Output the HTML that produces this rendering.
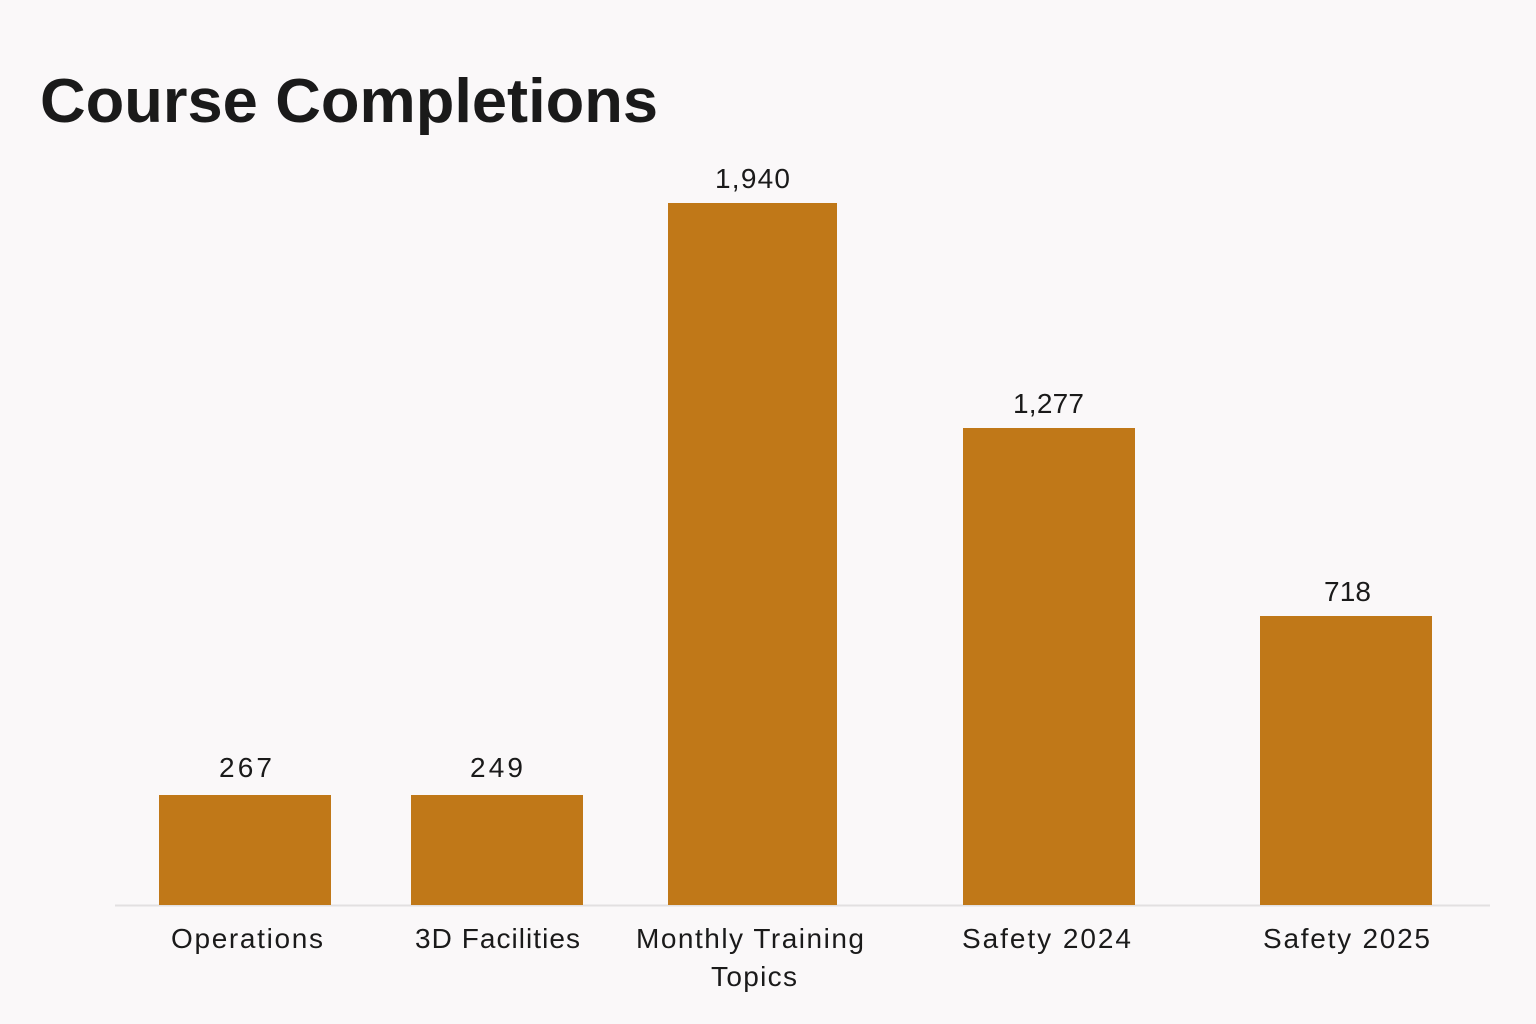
<!DOCTYPE html>
<html><head><meta charset="utf-8"><style>
html,body{margin:0;padding:0;width:1536px;height:1024px;background:#faf8f9;overflow:hidden}
svg{display:block}
text{font-family:"Liberation Sans",sans-serif;fill:#1a1a1a}
</style></head><body>
<svg width="1536" height="1024" viewBox="0 0 1536 1024">
<rect width="1536" height="1024" fill="#faf8f9"/>
<text x="40" y="122" font-size="62" font-weight="bold" fill="#000" textLength="618" lengthAdjust="spacingAndGlyphs">Course Completions</text>
<line x1="115" y1="905.5" x2="1490" y2="905.5" stroke="#e2e0e1" stroke-width="2"/>
<g fill="#c07818">
<rect x="159" y="795" width="172" height="110"/>
<rect x="411" y="795" width="172" height="110"/>
<rect x="668" y="203" width="169" height="702"/>
<rect x="963" y="428" width="172" height="477"/>
<rect x="1260" y="616" width="172" height="289"/>
</g>
<g font-size="28" lengthAdjust="spacingAndGlyphs">
<text x="219" y="777" textLength="53">267</text>
<text x="470" y="777" textLength="53">249</text>
<text x="715" y="188" textLength="75">1,940</text>
<text x="1013" y="413" textLength="71">1,277</text>
<text x="1324" y="601" textLength="47">718</text>
<text x="171" y="948" textLength="152">Operations</text>
<text x="415" y="948" textLength="165">3D Facilities</text>
<text x="636" y="948" textLength="228">Monthly Training</text>
<text x="711" y="986" textLength="86">Topics</text>
<text x="962" y="948" textLength="169">Safety 2024</text>
<text x="1263" y="948" textLength="167">Safety 2025</text>
</g>
</svg>
</body></html>
